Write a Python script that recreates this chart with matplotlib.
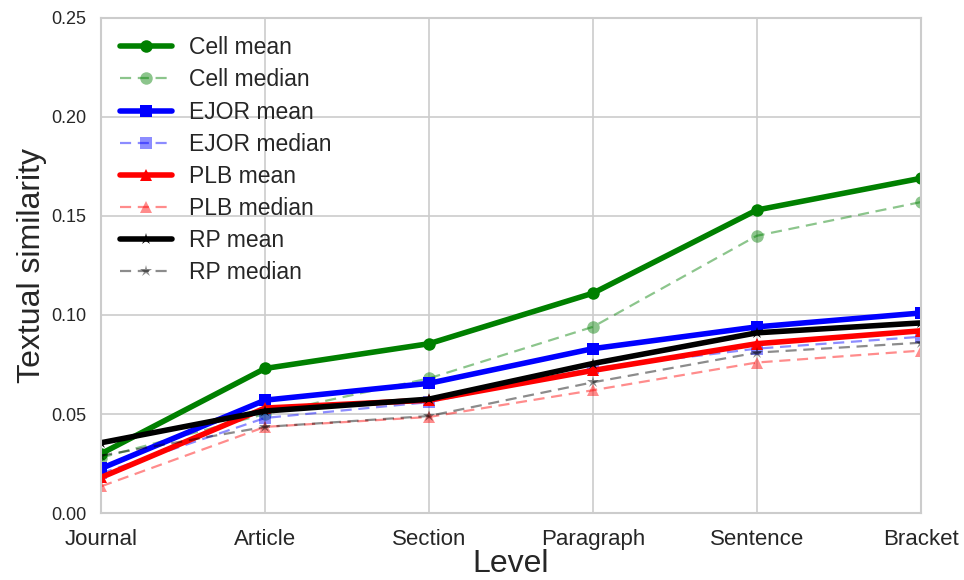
import matplotlib
matplotlib.use('Agg')
import matplotlib.pyplot as plt
import seaborn as sns

sns.set_style('whitegrid')
plt.rcParams['font.family'] = ['Liberation Sans', 'DejaVu Sans']

levels = ['Journal', 'Article', 'Section', 'Paragraph', 'Sentence', 'Bracket']

cell_mean = [0.030, 0.073, 0.0855, 0.111, 0.153, 0.169]
cell_median = [0.028, 0.050, 0.068, 0.094, 0.140, 0.157]
ejor_mean = [0.0225, 0.057, 0.0655, 0.083, 0.094, 0.101]
ejor_median = [0.020, 0.048, 0.056, 0.073, 0.083, 0.089]
plb_mean = [0.018, 0.053, 0.057, 0.072, 0.0855, 0.092]
plb_median = [0.0135, 0.0435, 0.0485, 0.062, 0.076, 0.082]
rp_mean = [0.0355, 0.0515, 0.0575, 0.0755, 0.091, 0.096]
rp_median = [0.029, 0.0435, 0.049, 0.066, 0.081, 0.086]

series = [
    ('Cell', 'green', 'o', cell_mean, cell_median),
    ('EJOR', 'blue', 's', ejor_mean, ejor_median),
    ('PLB', 'red', '^', plb_mean, plb_median),
    ('RP', 'black', '*', rp_mean, rp_median),
]

fig = plt.figure(figsize=(9.64, 5.8), dpi=100)
ax = fig.add_axes([0.105, 0.1155, 0.85, 0.8535])

x = list(range(len(levels)))
for name, color, marker, mean, median in series:
    ax.plot(x, mean, color=color, marker=marker, lw=4, ms=9, mew=0,
            label=f'{name} mean')
    ax.plot(x, median, color=color, marker=marker, lw=1.6, ls='--',
            dashes=(5, 3), ms=9, mew=0, alpha=0.45,
            label=f'{name} median')

ax.set_xlim(0, 5)
ax.set_ylim(0, 0.25)
ax.set_xticks(x)
ax.set_xticklabels(levels)
ax.set_yticks([0, 0.05, 0.10, 0.15, 0.20, 0.25])
ax.set_yticklabels(['0.00', '0.05', '0.10', '0.15', '0.20', '0.25'])
ax.tick_params(axis='x', labelsize=16, pad=8)
ax.tick_params(axis='y', labelsize=13, pad=7)
ax.set_xlabel('Level', fontsize=23, labelpad=-1)
ax.set_ylabel('Textual similarity', fontsize=23, labelpad=3)
for s in ax.spines.values():
    s.set_color('#cccccc')
    s.set_linewidth(1.5)
ax.grid(color='#cccccc', lw=1.2)

ax.legend(loc='upper left', fontsize=16.5, frameon=False, handlelength=2.3,
          handletextpad=0.75, labelspacing=0.4, borderaxespad=0.4)

fig.savefig('out.png', dpi=100)
